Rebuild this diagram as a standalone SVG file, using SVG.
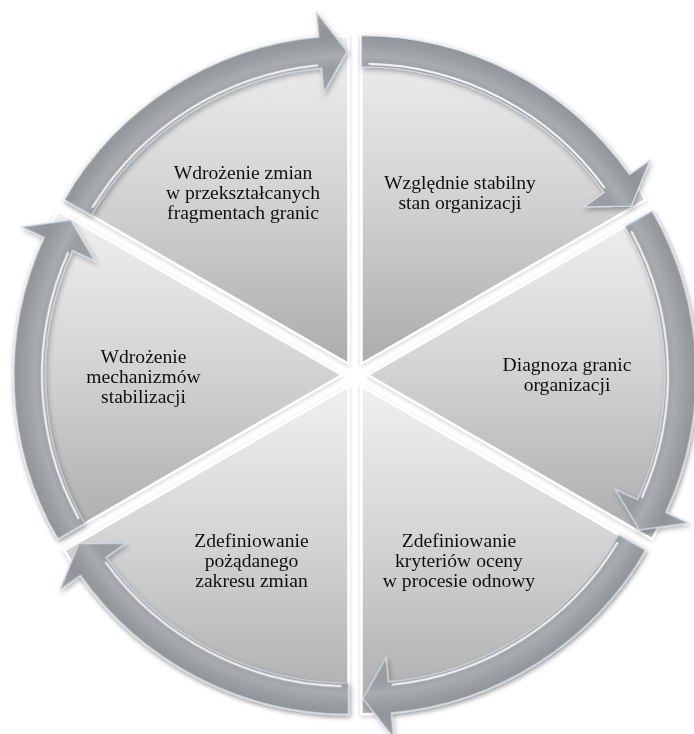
<svg xmlns="http://www.w3.org/2000/svg" xmlns:xlink="http://www.w3.org/1999/xlink" width="694" height="734" viewBox="0 0 694 734">
  <defs>
    <style>
      .wedge { fill: url(#wedgeFill); stroke: #ffffff; stroke-width: 2.5; stroke-linejoin: round; }
      .label { font-family: "Liberation Serif", "Times New Roman", serif; font-size: 19.6px; fill: #111111; text-anchor: middle; }
      .arrowBody { fill: url(#arrowFill); stroke: #d3dce6; stroke-width: 1.2; stroke-linejoin: miter; }
      .arrowGloss { fill: none; stroke: #ffffff; stroke-width: 2.2; stroke-opacity: 0.85; stroke-linecap: round; }
    </style>
    <!-- segment fill: light at the top, darker toward the bottom -->
    <linearGradient id="wedgeFill" x1="0" y1="0" x2="0" y2="1">
      <stop offset="0" stop-color="#f0f0f0"/>
      <stop offset="0.5" stop-color="#d2d2d2"/>
      <stop offset="1" stop-color="#acacac"/>
    </linearGradient>
    <!-- ring shading across the arrow band (centre of the ring at 0,0) -->
    <radialGradient id="arrowFill" gradientUnits="userSpaceOnUse" cx="0" cy="0" r="353">
      <stop offset="0.77" stop-color="#9ea1a5"/>
      <stop offset="0.84" stop-color="#999ca0"/>
      <stop offset="0.87" stop-color="#a8abaf"/>
      <stop offset="0.90" stop-color="#9b9ea2"/>
      <stop offset="0.93" stop-color="#909397"/>
      <stop offset="1" stop-color="#9fa2a6"/>
    </radialGradient>
    <filter id="arrowShadow" x="-10%" y="-10%" width="120%" height="120%">
      <feDropShadow dx="1.5" dy="2.5" stdDeviation="2.5" flood-color="#000000" flood-opacity="0.3"/>
    </filter>
    <filter id="wedgeShadow" x="-10%" y="-10%" width="120%" height="120%">
      <feDropShadow dx="0" dy="1.5" stdDeviation="2" flood-color="#000000" flood-opacity="0.18"/>
    </filter>
    <!-- one curved arrow covering a 60 degree sector, drawn clockwise from 12 o'clock -->
    <g id="cycleArrow">
      <path class="arrowBody" d="M0,-328 A328,328 0 0 1 268.02,-189.07 L288.45,-203.48 L269.81,-157.67 L222.26,-156.79 L242.69,-171.2 A297,297 0 0 0 0,-297 Z"/>
      <path class="arrowGloss" d="M7.85,-299.9 A300,300 0 0 1 242.7,-176.3"/>
    </g>
  </defs>

  <rect x="0" y="0" width="694" height="734" fill="#ffffff"/>

  <!-- segments: each wedge is pushed 13px out from the common centre (355,375) -->
  <g id="nodes" filter="url(#wedgeShadow)">
    <g id="node-stan">
      <path class="wedge" transform="translate(361.5,363.74)" d="M0,0 L0,-328 A328,328 0 0 1 284.06,-164 Z"/>
      <text class="label" x="460" y="189">Względnie stabilny</text>
      <text class="label" x="460" y="209">stan organizacji</text>
    </g>
    <g id="node-diagnoza">
      <path class="wedge" transform="translate(368,375)" d="M0,0 L284.06,-164 A328,328 0 0 1 284.06,164 Z"/>
      <text class="label" x="567" y="371">Diagnoza granic</text>
      <text class="label" x="567" y="391">organizacji</text>
    </g>
    <g id="node-kryteria">
      <path class="wedge" transform="translate(361.5,386.26)" d="M0,0 L284.06,164 A328,328 0 0 1 0,328 Z"/>
      <text class="label" x="459" y="547">Zdefiniowanie</text>
      <text class="label" x="459" y="567">kryteriów oceny</text>
      <text class="label" x="459" y="587">w procesie odnowy</text>
    </g>
    <g id="node-zakres">
      <path class="wedge" transform="translate(348.5,386.26)" d="M0,0 L0,328 A328,328 0 0 1 -284.06,164 Z"/>
      <text class="label" x="251.5" y="547">Zdefiniowanie</text>
      <text class="label" x="251.5" y="567">pożądanego</text>
      <text class="label" x="251.5" y="587">zakresu zmian</text>
    </g>
    <g id="node-mechanizmy">
      <path class="wedge" transform="translate(342,375)" d="M0,0 L-284.06,164 A328,328 0 0 1 -284.06,-164 Z"/>
      <text class="label" x="143.5" y="363">Wdrożenie</text>
      <text class="label" x="143.5" y="383">mechanizmów</text>
      <text class="label" x="143.5" y="403">stabilizacji</text>
    </g>
    <g id="node-wdrozenie">
      <path class="wedge" transform="translate(348.5,363.74)" d="M0,0 L-284.06,-164 A328,328 0 0 1 0,-328 Z"/>
      <text class="label" x="243" y="179">Wdrożenie zmian</text>
      <text class="label" x="243" y="199">w przekształcanych</text>
      <text class="label" x="243" y="219">fragmentach granic</text>
    </g>
  </g>

  <!-- connectors: the six arrows of the cycle, running clockwise -->
  <g id="connectors" filter="url(#arrowShadow)">
    <use xlink:href="#cycleArrow" transform="translate(361.5,363.74)"/>
    <use xlink:href="#cycleArrow" transform="translate(368,375) rotate(60)"/>
    <use xlink:href="#cycleArrow" transform="translate(361.5,386.26) rotate(120)"/>
    <use xlink:href="#cycleArrow" transform="translate(348.5,386.26) rotate(180)"/>
    <use xlink:href="#cycleArrow" transform="translate(342,375) rotate(240)"/>
    <use xlink:href="#cycleArrow" transform="translate(348.5,363.74) rotate(300)"/>
  </g>
</svg>
